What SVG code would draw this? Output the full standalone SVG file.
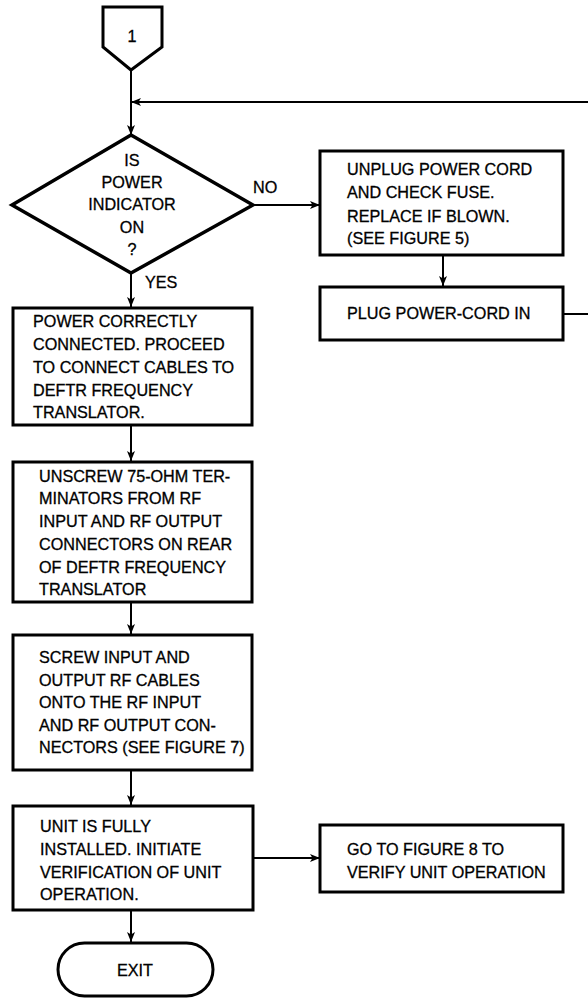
<svg xmlns="http://www.w3.org/2000/svg" width="588" height="1000" viewBox="0 0 588 1000">
  <style>
    .shape { fill: #fff; stroke: #000; stroke-width: 3; stroke-linejoin: miter; }
    .diamond { fill: #fff; stroke: #000; stroke-width: 3.5; }
    .txt { font-family: "Liberation Sans", Arial, sans-serif; font-size: 16.2px; fill: #000; stroke: #000; stroke-width: 0.3; }
    .mid { text-anchor: middle; }
    .wire { fill: none; stroke: #000; stroke-width: 2; }
  </style>
  <defs>
    <marker id="arrow" viewBox="0 0 10 8" refX="10" refY="4" markerWidth="10" markerHeight="8" orient="auto" markerUnits="userSpaceOnUse">
      <path d="M0,0 L10,4 L0,8 L2.5,4 z" fill="#000"/>
    </marker>
  </defs>

  <rect width="588" height="1000" fill="#fff"/>

  <!-- connectors -->
  <g id="connectors">
    <path class="wire" d="M131,70 V135" marker-end="url(#arrow)"/>
    <path class="wire" d="M563,314 H594 V102 H131" marker-end="url(#arrow)"/>
    <path class="wire" d="M253,205 H320" marker-end="url(#arrow)"/>
    <path class="wire" d="M131,273 V307" marker-end="url(#arrow)"/>
    <path class="wire" d="M443,255 V286" marker-end="url(#arrow)"/>
    <path class="wire" d="M131,425 V461" marker-end="url(#arrow)"/>
    <path class="wire" d="M131,602 V634" marker-end="url(#arrow)"/>
    <path class="wire" d="M131,770 V805" marker-end="url(#arrow)"/>
    <path class="wire" d="M253,858 H320" marker-end="url(#arrow)"/>
    <path class="wire" d="M131,910 V942" marker-end="url(#arrow)"/>
    <text class="txt" x="253" y="193">NO</text>
    <text class="txt" x="145" y="288">YES</text>
  </g>

  <!-- off-page connector 1 -->
  <g id="connector-1">
    <path class="shape" d="M103,7 H162 V47 L131,70 L103,47 Z"/>
    <text class="txt mid" x="132" y="42">1</text>
  </g>

  <!-- decision -->
  <g id="power-check">
    <path class="diamond" d="M131,135 L253,205 L131,273 L12,205 Z"/>
    <text class="txt mid" x="132" y="166">IS</text>
    <text class="txt mid" x="132" y="188">POWER</text>
    <text class="txt mid" x="132" y="210">INDICATOR</text>
    <text class="txt mid" x="132" y="233">ON</text>
    <text class="txt mid" x="132" y="255">?</text>
  </g>

  <g id="check-fuse">
    <rect class="shape" x="320" y="151" width="243" height="104"/>
    <text class="txt" x="347" y="175">UNPLUG POWER CORD</text>
    <text class="txt" x="347" y="198">AND CHECK FUSE.</text>
    <text class="txt" x="347" y="222">REPLACE IF BLOWN.</text>
    <text class="txt" x="347" y="244">(SEE FIGURE 5)</text>
  </g>

  <g id="plug-in">
    <rect class="shape" x="320" y="287" width="243" height="53"/>
    <text class="txt" x="347" y="319">PLUG POWER-CORD IN</text>
  </g>

  <g id="power-ok">
    <rect class="shape" x="13" y="308" width="239" height="117"/>
    <text class="txt" x="33" y="327">POWER CORRECTLY</text>
    <text class="txt" x="33" y="350">CONNECTED. PROCEED</text>
    <text class="txt" x="33" y="373">TO CONNECT CABLES TO</text>
    <text class="txt" x="33" y="396">DEFTR FREQUENCY</text>
    <text class="txt" x="33" y="418">TRANSLATOR.</text>
  </g>

  <g id="unscrew">
    <rect class="shape" x="13" y="462" width="239" height="140"/>
    <text class="txt" x="39" y="482">UNSCREW 75-OHM TER-</text>
    <text class="txt" x="39" y="504">MINATORS FROM RF</text>
    <text class="txt" x="39" y="527">INPUT AND RF OUTPUT</text>
    <text class="txt" x="39" y="550">CONNECTORS ON REAR</text>
    <text class="txt" x="39" y="573">OF DEFTR FREQUENCY</text>
    <text class="txt" x="39" y="595">TRANSLATOR</text>
  </g>

  <g id="screw-cables">
    <rect class="shape" x="13" y="635" width="239" height="135"/>
    <text class="txt" x="39" y="663">SCREW INPUT AND</text>
    <text class="txt" x="39" y="686">OUTPUT RF CABLES</text>
    <text class="txt" x="39" y="708">ONTO THE RF INPUT</text>
    <text class="txt" x="39" y="731">AND RF OUTPUT CON-</text>
    <text class="txt" x="39" y="753">NECTORS (SEE FIGURE 7)</text>
  </g>

  <g id="installed">
    <rect class="shape" x="13" y="806" width="240" height="104"/>
    <text class="txt" x="40" y="832">UNIT IS FULLY</text>
    <text class="txt" x="40" y="855">INSTALLED. INITIATE</text>
    <text class="txt" x="40" y="878">VERIFICATION OF UNIT</text>
    <text class="txt" x="40" y="900">OPERATION.</text>
  </g>

  <g id="verify">
    <rect class="shape" x="320" y="825" width="243" height="67"/>
    <text class="txt" x="347" y="855">GO TO FIGURE 8 TO</text>
    <text class="txt" x="347" y="878">VERIFY UNIT OPERATION</text>
  </g>

  <g id="exit">
    <rect class="shape" x="58" y="943" width="155" height="53" rx="26.5"/>
    <text class="txt mid" x="135" y="976">EXIT</text>
  </g>
</svg>
